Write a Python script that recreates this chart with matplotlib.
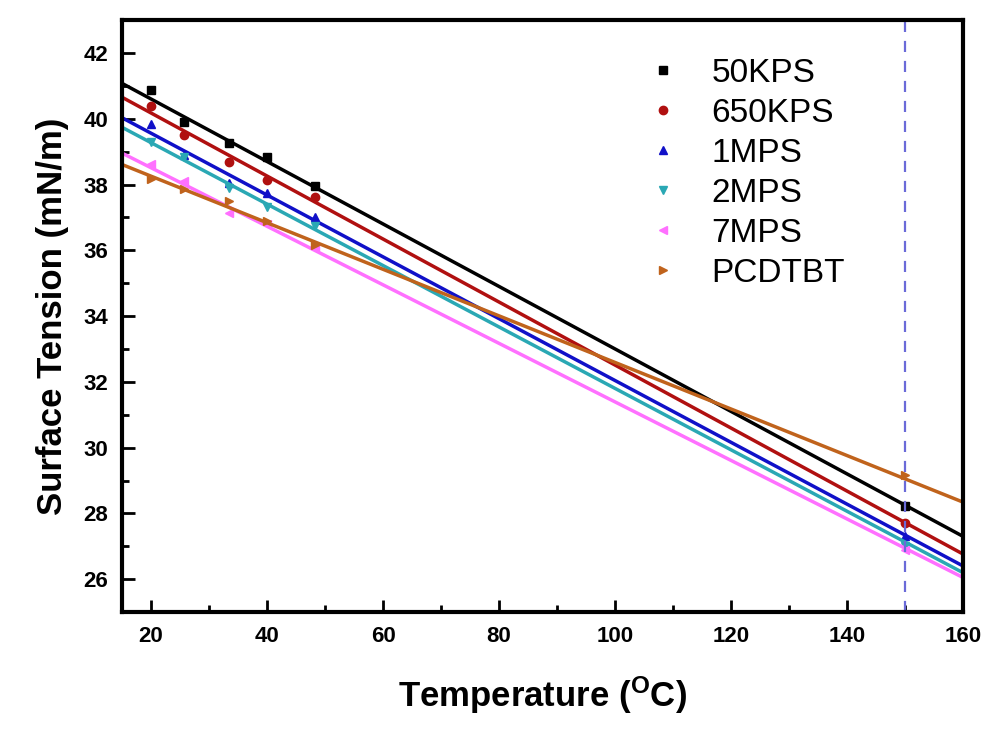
import numpy as np
import matplotlib
matplotlib.use('Agg')
import matplotlib.pyplot as plt
from matplotlib.ticker import MultipleLocator

plt.rcParams['font.family'] = ['Liberation Sans', 'DejaVu Sans']
plt.rcParams['mathtext.fontset'] = 'custom'
plt.rcParams['mathtext.rm'] = 'Liberation Sans'
plt.rcParams['mathtext.bf'] = 'Liberation Sans:bold'

# temperatures (C)
temps = np.array([20, 25.6, 33.4, 40, 48.2, 150])

# surface tension (mN/m)
kps50 = [40.86, 39.91, 39.25, 38.85, 37.96, 28.23]
kps650 = [40.39, 39.49, 38.69, 38.15, 37.63, 27.72]
mps1 = [39.83, 38.90, 38.05, 37.73, 37.02, 27.31]
mps2 = [39.28, 38.83, 37.90, 37.32, 36.73, 27.00]
mps7 = [38.62, 38.10, 37.12, 36.80, 36.10, 26.90]
pcdtbt = [38.18, 37.86, 37.50, 36.88, 36.16, 29.17]

# linear fits as drawn in the figure (slope per C, intercept at 0 C)
fit_slope = [-0.0950, -0.0958, -0.0940, -0.0934, -0.0890, -0.0708]
fit_icpt = [42.50, 42.09, 41.44, 41.14, 40.29, 39.67]

labels = ['50KPS', '650KPS', '1MPS', '2MPS', '7MPS', 'PCDTBT']
series = [kps50, kps650, mps1, mps2, mps7, pcdtbt]
colors = ['black', '#b01010', '#1010c8', '#2aa8b4', '#ff70ff', '#c0631c']
markers = ['s', 'o', '^', 'v', '<', '>']

fig = plt.figure(figsize=(9.92, 7.42), dpi=100)
ax = fig.add_axes([0.123, 0.175, 0.848, 0.798])

xfit = np.array([15, 160])
for i in range(len(series)):
    c = colors[i]
    ax.plot(temps, series[i], markers[i], color=c, markersize=6, label=labels[i],
            linestyle='none')
    ax.plot(xfit, fit_icpt[i] + fit_slope[i] * xfit, '-', color=c, linewidth=2.5)

ax.axvline(150, color='#6a6ad8', linestyle='--', linewidth=1.6, dashes=(5, 4))

ax.set_xlim(15, 160)
ax.set_ylim(25, 43)
ax.xaxis.set_major_locator(MultipleLocator(20))
ax.xaxis.set_minor_locator(MultipleLocator(10))
ax.yaxis.set_major_locator(MultipleLocator(2))
ax.yaxis.set_minor_locator(MultipleLocator(1))
ax.tick_params(which='both', direction='in', top=False, right=False, width=2)
ax.tick_params(which='major', length=9, labelsize=16, pad=10)
ax.tick_params(which='minor', length=5)
for t in ax.get_xticklabels() + ax.get_yticklabels():
    t.set_fontweight('bold')
for s in ax.spines.values():
    s.set_linewidth(3)

ax.set_xlabel(r'Temperature ($\mathbf{^{O}}$C)', fontsize=25, fontweight='bold', labelpad=20)
ax.set_ylabel('Surface Tension (mN/m)', fontsize=25, fontweight='bold', labelpad=10)

leg = ax.legend(loc='upper right', bbox_to_anchor=(0.895, 0.987), frameon=False,
                fontsize=24, markerscale=1.0, handletextpad=0.7, labelspacing=0.27,
                handlelength=1.5)

fig.savefig('out.png', dpi=100)
